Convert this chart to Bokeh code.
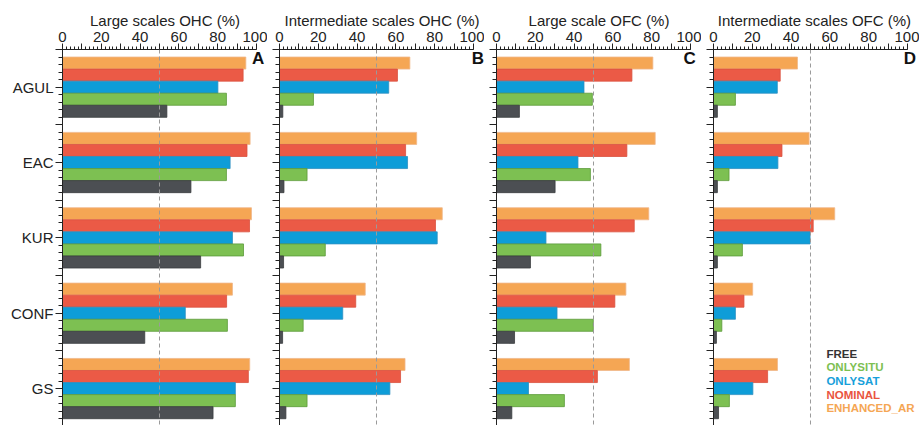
from bokeh.plotting import figure
from bokeh.layouts import row
from bokeh.models import Range1d, FixedTicker, Span, Label
from bokeh.embed import file_html
from bokeh.resources import INLINE

# ---------------- data ----------------
regions = ["AGUL", "EAC", "KUR", "CONF", "GS"]
experiments = ["ENHANCED_AR", "NOMINAL", "ONLYSAT", "ONLYSITU", "FREE"]  # top -> bottom in each group
legend_order = ["FREE", "ONLYSITU", "ONLYSAT", "NOMINAL", "ENHANCED_AR"]
panel_titles = ["Large scales OHC (%)", "Intermediate scales OHC (%)",
                "Large scale OFC (%)", "Intermediate scales  OFC (%)"]
panel_letters = ["A", "B", "C", "D"]
x_ticks = [0, 10, 20, 30, 40, 50, 60, 70, 80, 90, 100]
x_tick_labels = ["0", "", "20", "", "40", "", "60", "", "80", "", "100"]

# Panel A: Large scales OHC (%)
a_enhanced = [94.5, 96.7, 97.4, 87.6, 96.5]
a_nominal = [93.1, 95.1, 96.4, 84.6, 95.8]
a_onlysat = [80.1, 86.4, 87.6, 63.3, 89.1]
a_onlysitu = [84.5, 84.5, 93.3, 85.0, 89.1]
a_free = [53.8, 66.2, 71.2, 42.4, 77.6]

# Panel B: Intermediate scales OHC (%)
b_enhanced = [67.2, 70.7, 83.9, 44.2, 64.7]
b_nominal = [60.8, 65.0, 80.4, 39.3, 62.4]
b_onlysat = [56.3, 66.0, 81.3, 32.6, 56.9]
b_onlysitu = [17.5, 14.2, 23.6, 12.2, 14.2]
b_free = [1.7, 2.3, 2.1, 1.6, 3.3]

# Panel C: Large scale OFC (%)
c_enhanced = [80.6, 81.8, 78.5, 66.7, 68.5]
c_nominal = [69.8, 67.2, 71.0, 61.0, 52.0]
c_onlysat = [45.1, 42.0, 25.5, 31.2, 16.5]
c_onlysitu = [49.4, 48.4, 53.8, 49.9, 35.0]
c_free = [11.8, 30.2, 17.5, 9.3, 7.9]

# Panel D: Intermediate scales OFC (%)
d_enhanced = [43.3, 49.3, 62.5, 20.2, 33.0]
d_nominal = [34.4, 35.3, 51.4, 15.7, 27.9]
d_onlysat = [32.9, 33.2, 49.8, 11.3, 20.3]
d_onlysitu = [11.3, 8.0, 14.9, 4.3, 8.2]
d_free = [2.0, 2.0, 2.0, 1.5, 2.6]

panels = [
    {"ENHANCED_AR": a_enhanced, "NOMINAL": a_nominal, "ONLYSAT": a_onlysat, "ONLYSITU": a_onlysitu, "FREE": a_free},
    {"ENHANCED_AR": b_enhanced, "NOMINAL": b_nominal, "ONLYSAT": b_onlysat, "ONLYSITU": b_onlysitu, "FREE": b_free},
    {"ENHANCED_AR": c_enhanced, "NOMINAL": c_nominal, "ONLYSAT": c_onlysat, "ONLYSITU": c_onlysitu, "FREE": c_free},
    {"ENHANCED_AR": d_enhanced, "NOMINAL": d_nominal, "ONLYSAT": d_onlysat, "ONLYSITU": d_onlysitu, "FREE": d_free},
]

# ---------------- style ----------------
fill = {"ENHANCED_AR": "#F5A654", "NOMINAL": "#EB5A46", "ONLYSAT": "#0E9DD8",
        "ONLYSITU": "#7DC052", "FREE": "#4C4F53"}
edge = {"ENHANCED_AR": "#F0B88A", "NOMINAL": "#D9503F", "ONLYSAT": "#2E8FC0",
        "ONLYSITU": "#5C9A3A", "FREE": "#3A3C3F"}
text_col = {"ENHANCED_AR": "#F5A654", "NOMINAL": "#E9553F", "ONLYSAT": "#17A0DA",
            "ONLYSITU": "#7DC052", "FREE": "#333333"}
offsets = {"ENHANCED_AR": -0.32, "NOMINAL": -0.16, "ONLYSAT": 0.0, "ONLYSITU": 0.16, "FREE": 0.32}
bar_h = 0.16
FONT = "Liberation Sans"

widths = [267, 217, 217, 218]
left_b = [62, 12, 12, 12]
x_end = [105.67, 105.67, 105.67, 106.2]
letter_x = [100.8, 102.3, 99.6, 101.3]

y_major = [-0.5 + 0.5 * i for i in range(10)]
y_minor = [round(-0.5 + 0.1 * i, 2) for i in range(50)]

figs = []
for k in range(4):
    p = figure(width=widths[k], height=425, output_backend="svg", toolbar_location=None,
               x_range=Range1d(0, x_end[k]), y_range=Range1d(4.49, -0.5),
               x_axis_location="above", y_axis_location="left",
               min_border_left=left_b[k], min_border_right=0,
               min_border_top=49, min_border_bottom=0)
    p.outline_line_color = None
    p.xgrid.visible = False
    p.ygrid.visible = False
    p.background_fill_color = "white"
    p.border_fill_color = "white"

    vals = panels[k]
    for e in experiments:
        ys = [i + offsets[e] for i in range(len(regions))]
        p.hbar(y=ys, left=0, right=vals[e], height=bar_h,
               fill_color=fill[e], line_color=edge[e], line_width=0.8)

    p.add_layout(Span(location=50, dimension="height", line_color="#9a9a9a",
                      line_dash="4 3", line_width=1))

    xa = p.xaxis[0]
    xa.bounds = (0, 100)
    xa.ticker = FixedTicker(ticks=x_ticks, minor_ticks=list(range(0, 101, 2)))
    xa.major_label_overrides = {t: lab for t, lab in zip(x_ticks, x_tick_labels)}
    xa.axis_label = panel_titles[k]
    xa.axis_label_text_font = FONT
    xa.axis_label_text_font_size = "15px"
    xa.axis_label_text_font_style = "normal"
    xa.axis_label_text_color = "#222222"
    xa.axis_label_standoff = 0
    xa.major_label_text_font = FONT
    xa.major_label_text_font_size = "15px"
    xa.major_label_text_color = "#222222"
    xa.major_label_standoff = 2
    xa.major_tick_out = 6
    xa.major_tick_in = 0
    xa.minor_tick_out = 3
    xa.minor_tick_in = 0
    xa.axis_line_color = "#222222"
    xa.major_tick_line_color = "#222222"
    xa.minor_tick_line_color = "#222222"

    ya = p.yaxis[0]
    ya.ticker = FixedTicker(ticks=y_major, minor_ticks=y_minor)
    yover = {}
    for t in y_major:
        yover[t] = ""
    if k == 0:
        for i, r in enumerate(regions):
            yover[i] = r
    ya.major_label_overrides = yover
    ya.major_label_text_font = FONT
    ya.major_label_text_font_size = "15px"
    ya.major_label_text_color = "#222222"
    ya.major_label_standoff = 2
    ya.major_tick_out = 7
    ya.major_tick_in = 0
    ya.minor_tick_out = 4
    ya.minor_tick_in = 0
    ya.axis_line_color = "#222222"
    ya.major_tick_line_color = "#222222"
    ya.minor_tick_line_color = "#222222"

    p.add_layout(Label(x=letter_x[k], y=-0.38, text=panel_letters[k],
                       text_font=FONT, text_font_size="17px", text_font_style="bold",
                       text_align="center", text_baseline="middle", text_color="#111111"))

    if k == 3:
        for j, e in enumerate(legend_order):
            p.add_layout(Label(x=58.2, y=3.54 + 0.18 * j, text=e, text_font=FONT,
                               text_font_size="11.5px", text_font_style="bold",
                               text_color=text_col[e], text_align="left",
                               text_baseline="middle"))
    figs.append(p)

layout = row(*figs)
open("out.html", "w").write(file_html(layout, INLINE))
